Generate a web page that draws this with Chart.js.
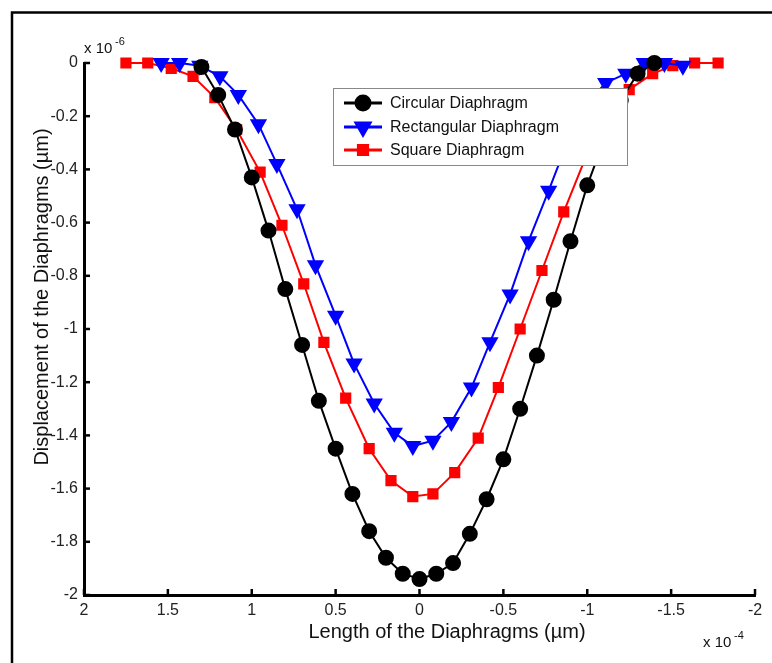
<!DOCTYPE html>
<html>
<head>
<meta charset="utf-8">
<script src="https://cdn.jsdelivr.net/npm/chart.js@4.4.1/dist/chart.umd.min.js"></script>
<style>
    body { margin: 0; background: #fff; }
    #wrap { width: 772px; height: 663px; }
</style>
</head>
<body>
<div id="wrap"><canvas id="diaphragmChart" width="772" height="663"></canvas></div>
<script>
// x values in units of 1e-4 um, y values in units of 1e-6 um
const circularX = [1.3, 1.2, 1.1, 1.0, 0.9, 0.8, 0.7, 0.6, 0.5, 0.4, 0.3, 0.2, 0.1, 0,
    -0.1, -0.2, -0.3, -0.4, -0.5, -0.6, -0.7, -0.8, -0.9, -1.0, -1.1, -1.2, -1.3, -1.4];
const circularY = [-0.015, -0.12, -0.25, -0.43, -0.63, -0.85, -1.06, -1.27, -1.45, -1.62, -1.76, -1.86, -1.92, -1.94,
    -1.92, -1.88, -1.77, -1.64, -1.49, -1.30, -1.10, -0.89, -0.67, -0.46, -0.29, -0.14, -0.04, 0];

const rectX = [1.54, 1.43, 1.31, 1.19, 1.08, 0.96, 0.85, 0.73, 0.62, 0.50, 0.39, 0.27, 0.15, 0.04,
    -0.08, -0.19, -0.31, -0.42, -0.54, -0.65, -0.77, -0.88, -1.00, -1.11, -1.23, -1.34, -1.46, -1.57];
const rectY = [0, 0, -0.01, -0.05, -0.12, -0.23, -0.38, -0.55, -0.76, -0.95, -1.13, -1.28, -1.39, -1.44,
    -1.42, -1.35, -1.22, -1.05, -0.87, -0.67, -0.48, -0.30, -0.15, -0.075, -0.04, 0, 0, -0.01];

const squareX = [1.75, 1.62, 1.48, 1.35, 1.22, 1.09, 0.95, 0.82, 0.69, 0.57, 0.44, 0.30, 0.17, 0.04,
    -0.08, -0.21, -0.35, -0.47, -0.60, -0.73, -0.86, -1.00, -1.12, -1.25, -1.39, -1.51, -1.64, -1.78];
const squareY = [0, 0, -0.02, -0.05, -0.13, -0.25, -0.41, -0.61, -0.83, -1.05, -1.26, -1.45, -1.57, -1.63,
    -1.62, -1.54, -1.41, -1.22, -1.00, -0.78, -0.56, -0.34, -0.21, -0.10, -0.04, -0.01, 0, 0];

const seriesNames = ['Circular Diaphragm', 'Rectangular Diaphragm', 'Square Diaphragm'];

const xTicks = [2, 1.5, 1, 0.5, 0, -0.5, -1, -1.5, -2];
const xTickLabels = ['2', '1.5', '1', '0.5', '0', '-0.5', '-1', '-1.5', '-2'];
const yTicks = [0, -0.2, -0.4, -0.6, -0.8, -1, -1.2, -1.4, -1.6, -1.8, -2];
const yTickLabels = ['0', '-0.2', '-0.4', '-0.6', '-0.8', '-1', '-1.2', '-1.4', '-1.6', '-1.8', '-2'];

const FONT = '"Liberation Sans", Arial, sans-serif';

function toPoints(xs, ys) {
    return xs.map((x, i) => ({ x: x, y: ys[i] }));
}

// frame, inward tick marks, titles, exponents and the boxed legend
const decorPlugin = {
    id: 'decor',
    beforeDraw(chart) {
        const ctx = chart.ctx;
        ctx.save();
        ctx.fillStyle = '#fff';
        ctx.fillRect(0, 0, chart.width, chart.height);
        ctx.strokeStyle = '#000';
        ctx.lineWidth = 2.5;
        ctx.beginPath();
        ctx.moveTo(12, chart.height + 2);
        ctx.lineTo(12, 12.5);
        ctx.lineTo(chart.width + 2, 12.5);
        ctx.stroke();
        ctx.restore();
    },
    afterDraw(chart) {
        const ctx = chart.ctx;
        const area = chart.chartArea;
        const xs = chart.scales.x;
        const ys = chart.scales.y;
        ctx.save();

        // inward ticks
        ctx.strokeStyle = '#000';
        ctx.lineWidth = 2.5;
        xTicks.forEach(v => {
            const px = xs.getPixelForValue(v);
            ctx.beginPath();
            ctx.moveTo(px, area.bottom);
            ctx.lineTo(px, area.bottom - 6);
            ctx.stroke();
        });
        yTicks.forEach(v => {
            const py = ys.getPixelForValue(v);
            ctx.beginPath();
            ctx.moveTo(area.left, py);
            ctx.lineTo(area.left + 6, py);
            ctx.stroke();
        });

        // axis titles
        ctx.fillStyle = '#111';
        ctx.font = '20px ' + FONT;
        ctx.textAlign = 'center';
        ctx.textBaseline = 'middle';
        ctx.fillText('Length of the Diaphragms (\u00b5m)', 447, 632);
        ctx.save();
        ctx.translate(42, 297);
        ctx.rotate(-Math.PI / 2);
        ctx.fillText('Displacement of the Diaphragms (\u00b5m)', 0, 0);
        ctx.restore();

        // exponents
        ctx.textAlign = 'left';
        ctx.font = '15px ' + FONT;
        ctx.fillText('x 10', 84, 49);
        ctx.fillText('x 10', 703, 643);
        ctx.font = '11px ' + FONT;
        ctx.fillText('-6', 115, 42);
        ctx.fillText('-4', 734, 636);

        // legend box
        const box = { left: 333, top: 88, right: 627, bottom: 165 };
        ctx.fillStyle = '#fff';
        ctx.fillRect(box.left, box.top, box.right - box.left, box.bottom - box.top);
        ctx.strokeStyle = '#888';
        ctx.lineWidth = 1;
        ctx.strokeRect(box.left + 0.5, box.top + 0.5, box.right - box.left, box.bottom - box.top);

        const rowY = [103, 127, 150];
        chart.data.datasets.forEach((ds, i) => {
            const y = rowY[i];
            ctx.strokeStyle = ds.borderColor;
            ctx.lineWidth = 3;
            ctx.beginPath();
            ctx.moveTo(344, y);
            ctx.lineTo(382, y);
            ctx.stroke();
            Chart.helpers.drawPoint(ctx, {
                pointStyle: ds.pointStyle,
                rotation: ds.rotation || 0,
                radius: ds.pointRadius,
                borderWidth: 1
            }, 363, y);
            ctx.fillStyle = ds.pointBackgroundColor;
            ctx.strokeStyle = ds.borderColor;
            ctx.fill();
            ctx.fillStyle = '#111';
            ctx.font = '16px ' + FONT;
            ctx.textAlign = 'left';
            ctx.textBaseline = 'middle';
            ctx.fillText(ds.label, 390, y + 1);
        });
        ctx.restore();
    }
};

const canvas = document.getElementById('diaphragmChart');
new Chart(canvas.getContext('2d'), {
    type: 'scatter',
    data: {
        datasets: [
            {
                label: seriesNames[0],
                data: toPoints(circularX, circularY),
                showLine: true,
                borderColor: '#000000',
                backgroundColor: '#000000',
                pointBackgroundColor: '#000000',
                pointStyle: 'circle',
                pointRadius: 7,
                borderWidth: 2,
                clip: false
            },
            {
                label: seriesNames[1],
                data: toPoints(rectX, rectY),
                showLine: true,
                borderColor: '#0000ff',
                backgroundColor: '#0000ff',
                pointBackgroundColor: '#0000ff',
                pointStyle: 'triangle',
                rotation: 180,
                pointRadius: 8,
                borderWidth: 2,
                clip: false
            },
            {
                label: seriesNames[2],
                data: toPoints(squareX, squareY),
                showLine: true,
                borderColor: '#ff0000',
                backgroundColor: '#ff0000',
                pointBackgroundColor: '#ff0000',
                pointStyle: 'rect',
                pointRadius: 6.5,
                borderWidth: 2,
                clip: false
            }
        ]
    },
    options: {
        responsive: false,
        animation: false,
        layout: {
            padding: { top: 63, right: 17, left: 0, bottom: 0 }
        },
        plugins: {
            legend: { display: false },
            tooltip: { enabled: false }
        },
        scales: {
            x: {
                type: 'linear',
                min: -2,
                max: 2,
                reverse: true,
                afterBuildTicks: function (scale) {
                    scale.ticks = xTicks.map(v => ({ value: v }));
                },
                afterFit: function (scale) {
                    scale.height = 68;
                },
                grid: { drawOnChartArea: false, drawTicks: false },
                border: { display: true, color: '#000', width: 3 },
                ticks: {
                    padding: 6,
                    color: '#222',
                    font: { family: FONT, size: 16 },
                    maxRotation: 0,
                    autoSkip: false,
                    callback: function (value, index) {
                        return xTickLabels[index];
                    }
                }
            },
            y: {
                type: 'linear',
                min: -2,
                max: 0,
                afterBuildTicks: function (scale) {
                    scale.ticks = yTicks.map(v => ({ value: v }));
                },
                afterFit: function (scale) {
                    scale.width = 84;
                },
                grid: { drawOnChartArea: false, drawTicks: false },
                border: { display: true, color: '#000', width: 3 },
                ticks: {
                    padding: 6,
                    color: '#222',
                    font: { family: FONT, size: 16 },
                    autoSkip: false,
                    callback: function (value, index) {
                        return yTickLabels[index];
                    }
                }
            }
        }
    },
    plugins: [decorPlugin]
});
</script>
</body>
</html>
